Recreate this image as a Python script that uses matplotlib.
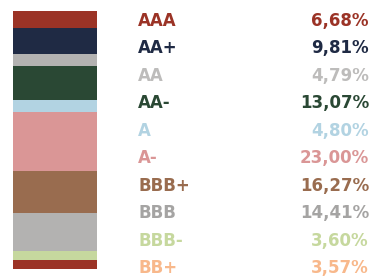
import numpy as np
import matplotlib.pyplot as plt

ratings = ["AAA", "AA+", "AA", "AA-", "A", "A-", "BBB+", "BBB", "BBB-", "BB+"]
shares = [6.68, 9.81, 4.79, 13.07, 4.80, 23.00, 16.27, 14.41, 3.60, 3.57]
bar_colors = ["#9b3326", "#1f2a44", "#b3b2b1", "#2a4834", "#b2d3e2",
              "#da9696", "#996c4f", "#b3b2b1", "#c6d89e", "#9b3326"]
text_colors = ["#9b3326", "#1f2a44", "#bdbcbb", "#2a4834", "#b2d3e2",
               "#da9696", "#996c4f", "#a5a4a3", "#c6d89e", "#f8b88b"]

W, H = 373, 276
fig = plt.figure(figsize=(W / 100, H / 100), dpi=100)

# stacked single bar on the left
ax = fig.add_axes([13 / W, 1 - 269 / H, 84 / W, 258 / H])
bottoms = np.concatenate([[0], np.cumsum(shares)[:-1]])
ax.bar([0] * len(shares), shares, bottom=bottoms, width=1.0,
       color=bar_colors, linewidth=0)
ax.set_xlim(-0.5, 0.5)
ax.set_ylim(sum(shares), 0)
ax.axis("off")

# labels and percentages
rows_y = np.linspace(21, 268, len(ratings))
for name, val, col, y in zip(ratings, shares, text_colors, rows_y):
    fig.text(138 / W, 1 - y / H, name, color=col, fontsize=12,
             fontweight="bold", family="DejaVu Sans", va="center", ha="left")
    fig.text(369 / W, 1 - y / H, f"{val:.2f}%".replace(".", ","), color=col,
             fontsize=12, fontweight="bold", family="DejaVu Sans",
             va="center", ha="right")

fig.savefig("out.png", dpi=100)
